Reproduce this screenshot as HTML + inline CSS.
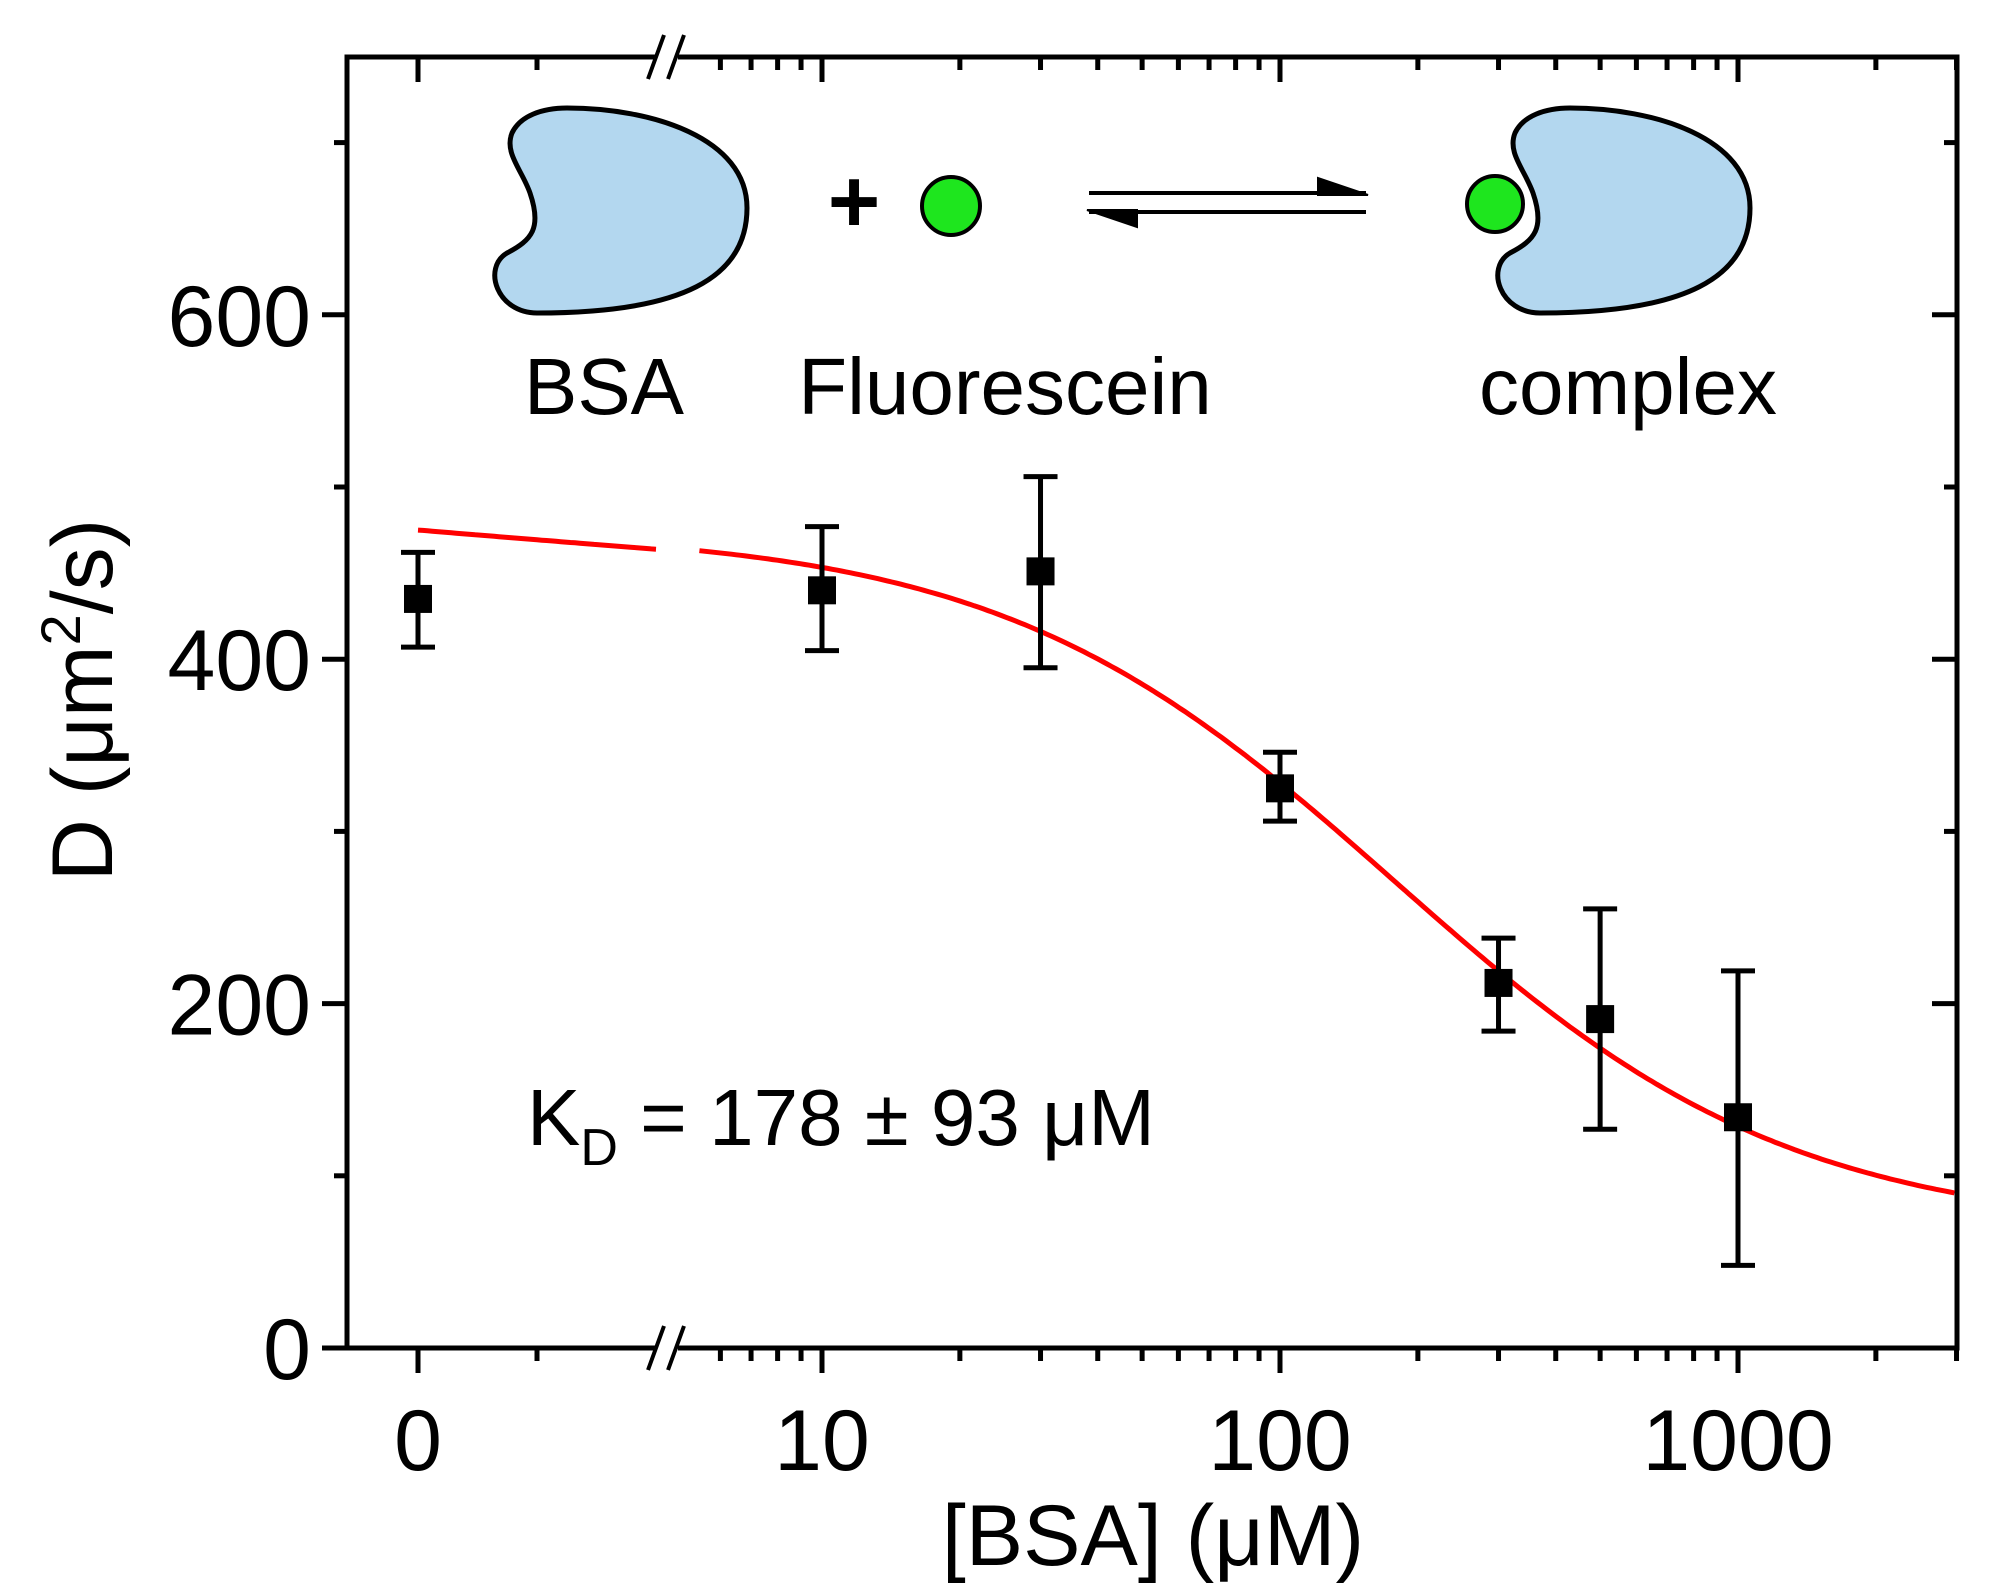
<!DOCTYPE html>
<html><head><meta charset="utf-8">
<style>
html,body{margin:0;padding:0;background:#fff;}
svg{display:block;font-family:"Liberation Sans",Arial,sans-serif;}
</style></head>
<body>
<svg id="chart" width="2003" height="1586" viewBox="0 0 2003 1586">
<g id="axes"></g>
<g id="marks"></g>
<g id="scheme">
  <path transform="translate(492,108)" d="M75,0 C160,0 255,30 255,100 C255,170 190,205 45,205 C5,205 -10,160 15,145 C40,132 50,120 38,85 C30,62 12,45 20,25 C28,8 50,0 75,0 Z" fill="#b3d7ef" stroke="#000" stroke-width="5"/>
  <text x="854" y="232" font-size="90" font-weight="bold" text-anchor="middle">+</text>
  <circle cx="951" cy="206" r="29" fill="#1ee61e" stroke="#000" stroke-width="4"/>
  <g stroke="#000" stroke-width="4" fill="#000">
    <line x1="1089" y1="193" x2="1366" y2="193"/>
    <path d="M1368,195 L1318,178 L1318,195 Z" stroke-width="2"/>
    <line x1="1089" y1="212" x2="1366" y2="212"/>
    <path d="M1087,210 L1137,227 L1137,210 Z" stroke-width="2"/>
  </g>
  <path transform="translate(1495,108)" d="M75,0 C160,0 255,30 255,100 C255,170 190,205 45,205 C5,205 -10,160 15,145 C40,132 50,120 38,85 C30,62 12,45 20,25 C28,8 50,0 75,0 Z" fill="#b3d7ef" stroke="#000" stroke-width="5"/>
  <circle cx="1495" cy="204" r="28" fill="#1ee61e" stroke="#000" stroke-width="4"/>
  <text x="604" y="414" font-size="80" text-anchor="middle">BSA</text>
  <text x="1005" y="414" font-size="80" text-anchor="middle">Fluorescein</text>
  <text x="1628" y="414" font-size="80" text-anchor="middle">complex</text>
</g>
<text x="527" y="1145" font-size="80">K<tspan font-size="52" dy="20">D</tspan><tspan dy="-20"> = 178 ± 93 μM</tspan></text>
<text x="1153" y="1565" font-size="86" text-anchor="middle">[BSA] (μM)</text>
<text transform="translate(112,700) rotate(-90)" font-size="86" text-anchor="middle">D (μm<tspan font-size="56" dy="-32">2</tspan><tspan dy="32">/s)</tspan></text>
</svg>
<script>
const concentrations = [0, 10, 30, 100, 300, 500, 1000];
const diffusion = [435, 440, 451, 325, 212, 191, 134];
const errUpper = [462, 477, 506, 346, 238, 255, 219];
const errLower = [407, 405, 395, 306, 184, 127, 48];
const fitParams = [475, 67, 178]; // D_free, D_complex, K_D
const yTicks = [0, 200, 400, 600];
const yMinor = [100, 300, 500, 700];
const xLinTicks = [0];
const xLinMinor = [2.5];
const xLogTicks = [10, 100, 1000];
const xLogTickLabels = ["10", "100", "1000"];

const NS = "http://www.w3.org/2000/svg";
const L = 347, R = 1957, T = 57, B = 1348;
const Y0 = 1348, YPER = 1.722;
const X0 = 418, XLINPER = 47.6;
const X10 = 822, DEC = 458;
const BREAK_X = 668;
function yS(v){ return Y0 - v * YPER; }
function xS(v){ return v < 5.2 ? X0 + v * XLINPER : X10 + (Math.log10(v) - 1) * DEC; }
function mk(tag, attrs, parent){
  const e = document.createElementNS(NS, tag);
  for (const k in attrs) e.setAttribute(k, attrs[k]);
  parent.appendChild(e);
  return e;
}
const axes = document.getElementById('axes');
const marks = document.getElementById('marks');

const frame = mk('rect', {x:L, y:T, width:R-L, height:B-T, fill:'none', stroke:'#000', 'stroke-width':5}, axes);


[B, T].forEach((yy, i) => {
  const g = mk('rect', {x:BREAK_X-12, y:yy-5, width:22, height:10, fill:'#fff'}, axes);
  
  
  [-12, 8].forEach(dx => {
    const s = mk('line', {x1:BREAK_X+dx-8, y1:yy+22, x2:BREAK_X+dx+8, y2:yy-22, stroke:'#000', 'stroke-width':4}, axes);
    
    
  });
});

yTicks.forEach(v => {
  const y = yS(v);
  const t = mk('line', {x1:L-25, y1:y, x2:L, y2:y, stroke:'#000', 'stroke-width':5}, axes);
  
  
  const t2 = mk('line', {x1:R-25, y1:y, x2:R, y2:y, stroke:'#000', 'stroke-width':5}, axes);
  
  
  const lb = mk('text', {x:L-36, y:y+31, 'font-size':86, 'text-anchor':'end'}, axes);
  lb.textContent = v;
  
  
});
yMinor.forEach(v => {
  const y = yS(v);
  const t = mk('line', {x1:L-13, y1:y, x2:L, y2:y, stroke:'#000', 'stroke-width':5}, axes);
  
  
  const t2 = mk('line', {x1:R-13, y1:y, x2:R, y2:y, stroke:'#000', 'stroke-width':5}, axes);
  
  
});

function xTick(v, len, label){
  const x = xS(v);
  const t = mk('line', {x1:x, y1:B, x2:x, y2:B+len, stroke:'#000', 'stroke-width':5}, axes);
  
  
  const t2 = mk('line', {x1:x, y1:T, x2:x, y2:T+len, stroke:'#000', 'stroke-width':5}, axes);
  
  
  if (label !== null){
    const lb = mk('text', {x:x, y:1470, 'font-size':86, 'text-anchor':'middle'}, axes);
    lb.textContent = label;
    
    
  }
}
xLinTicks.forEach(v => xTick(v, 25, String(v)));
xLinMinor.forEach(v => xTick(v, 13, null));
xLogTicks.forEach((v, i) => xTick(v, 25, xLogTickLabels[i]));
xLogTicks.forEach(d => { for (let m = 2; m <= 9; m++) { const v = d*m/10; if (d > 10 || v >= 6) xTick(v, 13, null); } });
xTick(2000, 13, null);
xTick(3000, 13, null);

function fit(x){ return fitParams[0] - (fitParams[0]-fitParams[1]) * x / (fitParams[2] + x); }
let p1 = '';
for (let x = 0; x <= 5.05; x += 0.1) p1 += (p1 ? 'L' : 'M') + xS(x).toFixed(1) + ',' + yS(fit(x)).toFixed(1);
const c1 = mk('path', {d:p1, fill:'none', stroke:'#f00', 'stroke-width':5}, marks);


let p2 = '';
for (let lx = Math.log10(5.4); lx <= Math.log10(3000); lx += 0.01) p2 += (p2 ? 'L' : 'M') + xS(Math.pow(10, lx)).toFixed(1) + ',' + yS(fit(Math.pow(10, lx))).toFixed(1);
const c2 = mk('path', {d:p2, fill:'none', stroke:'#f00', 'stroke-width':5}, marks);



concentrations.forEach((c, i) => {
  const x = xS(c);
  const eb = mk('path', {d:`M${x},${yS(errUpper[i])}L${x},${yS(errLower[i])}M${x-17},${yS(errUpper[i])}L${x+17},${yS(errUpper[i])}M${x-17},${yS(errLower[i])}L${x+17},${yS(errLower[i])}`, stroke:'#000', 'stroke-width':5, fill:'none'}, marks);
  
  
  const pt = mk('rect', {x:x-14, y:yS(diffusion[i])-14, width:28, height:28, fill:'#000'}, marks);
  
  
});
</script>
</body></html>
